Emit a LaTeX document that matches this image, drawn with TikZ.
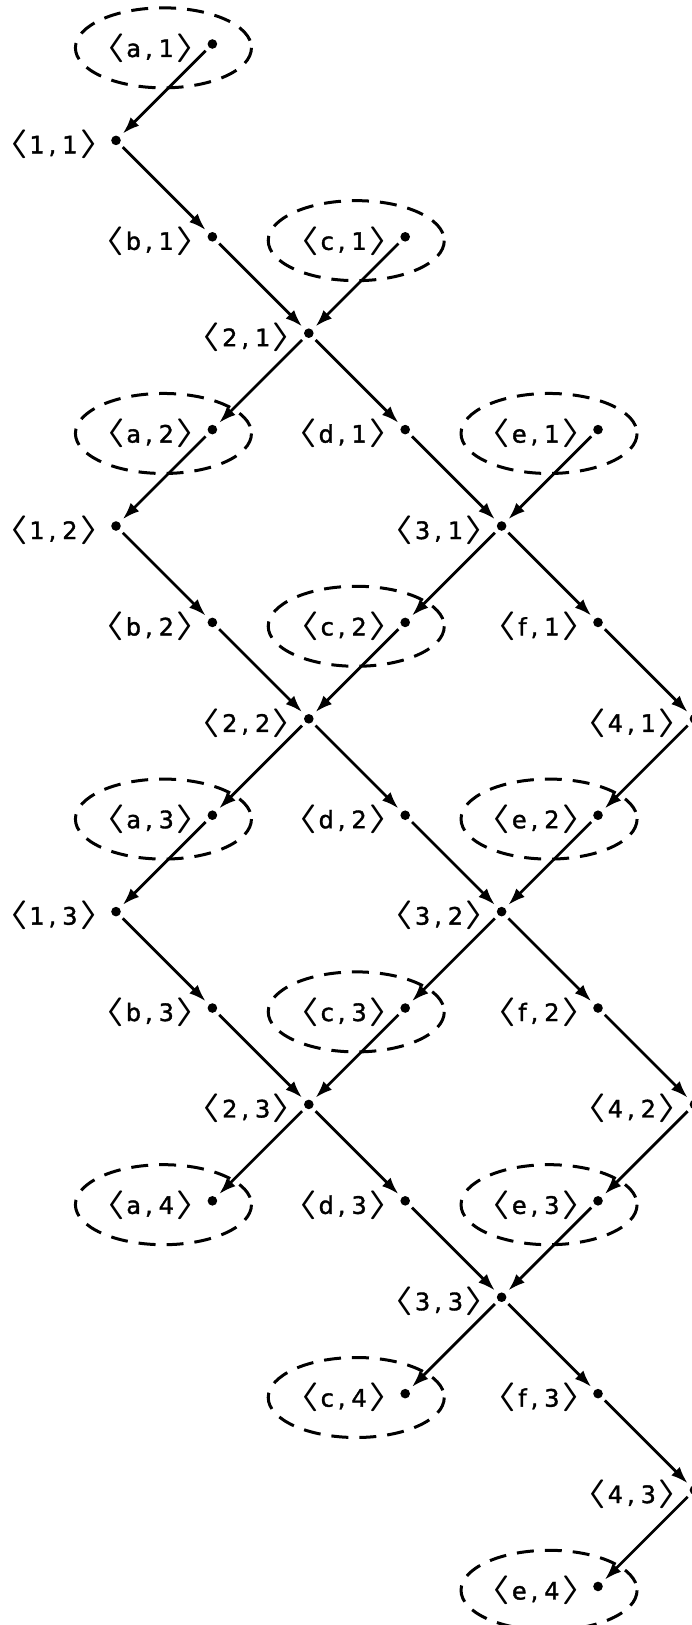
\documentclass[tikz,border=0pt]{standalone}
\usepackage{fontspec}
\setmainfont{DejaVu Sans}[FakeBold=1.5]
\usetikzlibrary{arrows.meta,positioning}
\newcommand{\bra}[1]{\raisebox{0.9pt}{\fontsize{14}{14}\selectfont\boldmath\scalebox{1.65}[1]{$#1$}}}
\newcommand{\pairtext}[2]{\bra{\langle}\kern0.5pt#1\kern2pt,\kern3pt#2\kern0.8pt\bra{\rangle}}

\begin{document}
\begin{tikzpicture}[
    x=48.2pt, y=-48.2pt,
    every node/.style={font=\fontsize{12}{14}\selectfont},
    dotnode/.style={circle, fill=black, inner sep=0pt, minimum size=4.8pt},
    pairlabel/.style={inner sep=0pt, yshift=-2pt},
    flow/.style={line width=1.4pt, -{Latex[length=8.5pt,width=6pt]},
        shorten <=2.2pt, shorten >=2.2pt},
    ring/.style={line width=1.5pt, dash pattern=on 8.5pt off 5.5pt},
]
\useasboundingbox (-1.2033,-0.4564) rectangle (5.965,16.4);

% Lattice points, four rows for each index
\foreach \k [evaluate=\k as \r using int(4*(\k-1))] in {1,2,3} {
    \node[dotnode] (a\k) at (1,\r) {};
    \node[dotnode] (p1\k) at (0,\r+1) {};
    \node[dotnode] (b\k) at (1,\r+2) {};
    \node[dotnode] (c\k) at (3,\r+2) {};
    \node[dotnode] (p2\k) at (2,\r+3) {};
    \node[dotnode] (d\k) at (3,\r+4) {};
    \node[dotnode] (e\k) at (5,\r+4) {};
    \node[dotnode] (p3\k) at (4,\r+5) {};
    \node[dotnode] (f\k) at (5,\r+6) {};
    \node[dotnode] (p4\k) at (6,\r+7) {};
    \node[pairlabel, left=5pt of a\k] (la\k) {\pairtext{a}{\k}};
    \node[pairlabel, left=5pt of p1\k] (l1\k) {\pairtext{1}{\k}};
    \node[pairlabel, left=5pt of b\k] (lb\k) {\pairtext{b}{\k}};
    \node[pairlabel, left=5pt of c\k] (lc\k) {\pairtext{c}{\k}};
    \node[pairlabel, left=5pt of p2\k] (l2\k) {\pairtext{2}{\k}};
    \node[pairlabel, left=5pt of d\k] (ld\k) {\pairtext{d}{\k}};
    \node[pairlabel, left=5pt of e\k] (le\k) {\pairtext{e}{\k}};
    \node[pairlabel, left=5pt of p3\k] (l3\k) {\pairtext{3}{\k}};
    \node[pairlabel, left=5pt of f\k] (lf\k) {\pairtext{f}{\k}};
    \node[pairlabel, left=5pt of p4\k] (l4\k) {\pairtext{4}{\k}};
}
\node[dotnode] (a4) at (1,12) {};
\node[dotnode] (c4) at (3,14) {};
\node[dotnode] (e4) at (5,16) {};
\node[pairlabel, left=5pt of a4] (la4) {\pairtext{a}{4}};
\node[pairlabel, left=5pt of c4] (lc4) {\pairtext{c}{4}};
\node[pairlabel, left=5pt of e4] (le4) {\pairtext{e}{4}};

% Dashed rings round the a, c and e points
\foreach \k in {1,2,3,4} {
    \foreach \s in {a,c,e} {
        \draw[ring] ([shift={(-0.508,0.04)}]\s\k) ellipse [x radius=0.913, y radius=0.415];
    }
}

% Arrows
\foreach \k [evaluate=\k as \n using int(\k+1)] in {1,2,3} {
    \draw[flow] (a\k) -- (p1\k);
    \draw[flow] (p1\k) -- (b\k);
    \draw[flow] (b\k) -- (p2\k);
    \draw[flow] (c\k) -- (p2\k);
    \draw[flow] (p2\k) -- (a\n);
    \draw[flow] (p2\k) -- (d\k);
    \draw[flow] (d\k) -- (p3\k);
    \draw[flow] (e\k) -- (p3\k);
    \draw[flow] (p3\k) -- (c\n);
    \draw[flow] (p3\k) -- (f\k);
    \draw[flow] (f\k) -- (p4\k);
    \draw[flow] (p4\k) -- (e\n);
}

\end{tikzpicture}
\end{document}
